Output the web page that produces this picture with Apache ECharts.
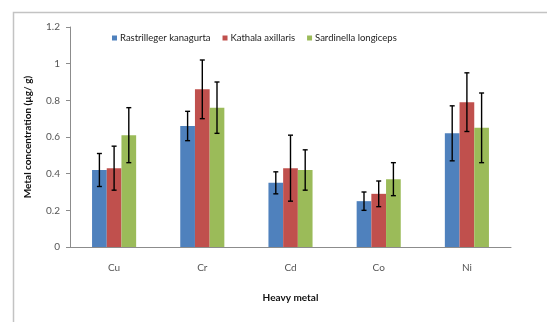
<!DOCTYPE html>
<html><head><meta charset="utf-8">
<script src="https://cdn.jsdelivr.net/npm/echarts@6/dist/echarts.min.js"></script>
<style>html,body{margin:0;padding:0;background:#fff}#c{width:547px;height:322px}</style>
</head><body><div id="c"></div>
<script>
const categories = ['Cu', 'Cr', 'Cd', 'Co', 'Ni'];
const seriesNames = ['Rastrilleger kanagurta', 'Kathala axillaris', 'Sardinella longiceps'];
const rastrillegerMean = [0.42, 0.66, 0.35, 0.25, 0.62];
const rastrillegerErr  = [0.09, 0.08, 0.06, 0.05, 0.15];
const kathalaMean      = [0.43, 0.86, 0.43, 0.29, 0.79];
const kathalaErr       = [0.12, 0.16, 0.18, 0.07, 0.16];
const sardinellaMean   = [0.61, 0.76, 0.42, 0.37, 0.65];
const sardinellaErr    = [0.15, 0.14, 0.11, 0.09, 0.19];
const yTicks = [0, 0.2, 0.4, 0.6, 0.8, 1, 1.2];

const colors = ['#4f81bd', '#c0504d', '#9bbb59'];
const means = [rastrillegerMean, kathalaMean, sardinellaMean];
const errs = [rastrillegerErr, kathalaErr, sardinellaErr];
const FONT = 'Lato';

const chart = echarts.init(document.getElementById('c'), null, {renderer: 'canvas'});

const barSeries = means.map((m, i) => ({
  name: seriesNames[i], type: 'bar', data: m,
  itemStyle: {color: colors[i]},
  barGap: '0%', barCategoryGap: '50%'
}));

const errSeries = means.map((m, i) => ({
  type: 'custom', name: seriesNames[i] + ' err', z: 10,
  data: m.map((v, k) => [k, v - errs[i][k], v + errs[i][k]]),
  renderItem: function (params, api) {
    const x = api.value(0);
    const lo = api.coord([x, api.value(1)]);
    const hi = api.coord([x, api.value(2)]);
    const band = api.size([1, 0])[0];
    const bw = band * 0.5 / 3;
    const cx = lo[0] + (i - 1) * bw;
    const cap = 2.5;
    const st = {stroke: '#000', lineWidth: 1.4};
    return {type: 'group', children: [
      {type: 'line', shape: {x1: cx, y1: lo[1], x2: cx, y2: hi[1]}, style: st},
      {type: 'line', shape: {x1: cx - cap, y1: lo[1], x2: cx + cap, y2: lo[1]}, style: st},
      {type: 'line', shape: {x1: cx - cap, y1: hi[1], x2: cx + cap, y2: hi[1]}, style: st}
    ]};
  },
  encode: {x: 0, y: [1, 2]},
  silent: true
}));

chart.setOption({
  animation: false,
  textStyle: {fontFamily: FONT},
  graphic: [{type: 'rect', left: 11, top: 10, shape: {width: 600, height: 400},
    style: {fill: 'none', stroke: '#c3c3c3', lineWidth: 1.5}, silent: true}],
  legend: {
    data: seriesNames, top: 28, left: 107,
    itemWidth: 5, itemHeight: 5, itemGap: 12, icon: 'rect',
    textStyle: {fontFamily: FONT, fontSize: 9.5, color: '#222', padding: [0, 0, 0, -2]}
  },
  grid: {left: 70, right: 36, top: 27, bottom: 75, containLabel: false},
  xAxis: {
    type: 'category', data: categories,
    name: 'Heavy metal', nameLocation: 'middle', nameGap: 46,
    nameTextStyle: {fontFamily: FONT, fontSize: 10, fontWeight: 'bold', color: '#111'},
    axisLine: {lineStyle: {color: '#8c8c8c', width: 1}},
    axisTick: {show: false},
    axisLabel: {fontFamily: FONT, fontSize: 10, color: '#555', margin: 16}
  },
  yAxis: {
    type: 'value', min: yTicks[0], max: yTicks[yTicks.length - 1], interval: 0.2,
    name: 'Metal concentration (µg/ g)', nameLocation: 'middle', nameGap: 37, nameRotate: 90,
    nameTextStyle: {fontFamily: FONT, fontSize: 10, fontWeight: 'bold', color: '#111'},
    axisLine: {show: true, lineStyle: {color: '#8c8c8c', width: 1}},
    axisTick: {show: true, length: 4, lineStyle: {color: '#8c8c8c'}},
    splitLine: {show: false},
    axisLabel: {fontFamily: FONT, fontSize: 10, color: '#555', margin: 10}
  },
  series: [...barSeries, ...errSeries]
});
</script></body></html>
